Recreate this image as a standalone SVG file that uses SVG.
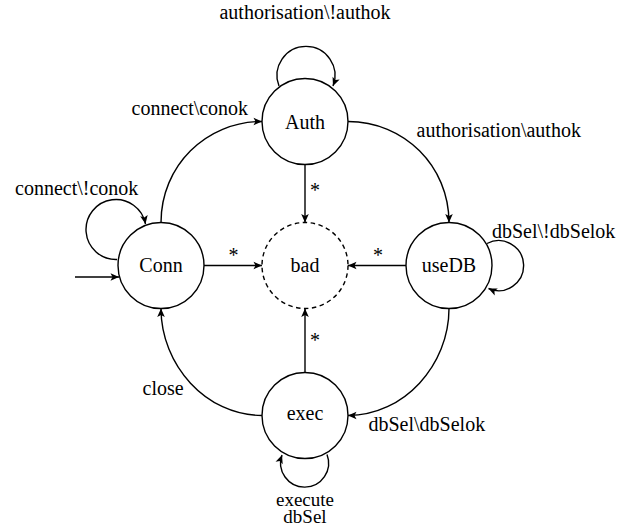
<svg xmlns="http://www.w3.org/2000/svg" width="637" height="531" viewBox="0 0 637 531">
<style>
.st{fill:#fff;stroke:#000;stroke-width:1.4}
.bad{fill:#fff;stroke:#000;stroke-width:1.4;stroke-dasharray:4.5 3.5}
.e{fill:none;stroke:#000;stroke-width:1.4;marker-end:url(#ah)}
.m{text-anchor:middle}
</style>
<defs>
<marker id="ah" markerUnits="userSpaceOnUse" markerWidth="12" markerHeight="12" viewBox="-10 -6 12 12" refX="0" refY="0" orient="auto">
<path d="M0,0 L-8.5,-3.8 L-6.5,0 L-8.5,3.8 Z" fill="#000"/>
</marker>
</defs>
<g id="connectors">
<path class="e" d="M75,277 L119,277"/>
<path class="e" d="M204,265.5 L262,265.5"/>
<path class="e" d="M406,265.5 L348,265.5"/>
<path class="e" d="M305,164.5 L305,222.5"/>
<path class="e" d="M305,372.5 L305,308.5"/>
<path class="e" d="M161,222.5 C161,166 206,121.5 262,121.5"/>
<path class="e" d="M348,121.5 C404,121.5 449,166 449,222.5"/>
<path class="e" d="M449,308.5 C449,365 404,415.5 348,415.5"/>
<path class="e" d="M262,415.5 C206,415.5 161,365 161,308.5"/>
<path class="e" d="M279,86 A29,29 0 1 1 333,86"/>
<path class="e" d="M117,259.5 A30,30 0 1 1 145.5,224"/>
<path class="e" d="M487,243.5 A25,25 0 1 1 488.5,288.5"/>
<path class="e" d="M327,454.5 A24,24 0 1 1 282,455"/>
<g font-family="Liberation Serif" font-size="20" fill="#000">
<text class="m" x="305" y="19">authorisation\!authok</text>
<text x="131.5" y="115">connect\conok</text>
<text x="15" y="194.5">connect\!conok</text>
<text x="416.5" y="136.5">authorisation\authok</text>
<text x="492" y="237.5">dbSel\!dbSelok</text>
<text x="368.5" y="431">dbSel\dbSelok</text>
<text x="142.5" y="395">close</text>
<text class="m" x="305" y="506" font-size="19">execute</text>
<text class="m" x="305" y="523" font-size="19">dbSel</text>
<text class="m" x="233.5" y="262">*</text>
<text class="m" x="378" y="262">*</text>
<text class="m" x="315" y="197">*</text>
<text class="m" x="315" y="347">*</text>
</g>
</g>
<g font-family="Liberation Serif" font-size="20" fill="#000">
<g id="Auth"><circle class="st" cx="305" cy="121.5" r="43"/><text class="m" x="305" y="128.5">Auth</text></g>
<g id="Conn"><circle class="st" cx="161" cy="265.5" r="43"/><text class="m" x="161" y="272">Conn</text></g>
<g id="bad"><circle class="bad" cx="305" cy="265.5" r="43"/><text class="m" x="305" y="272">bad</text></g>
<g id="useDB"><circle class="st" cx="449" cy="265.5" r="43"/><text class="m" x="449" y="272">useDB</text></g>
<g id="exec"><circle class="st" cx="305" cy="415.5" r="43"/><text class="m" x="305" y="420">exec</text></g>
</g>
</svg>
